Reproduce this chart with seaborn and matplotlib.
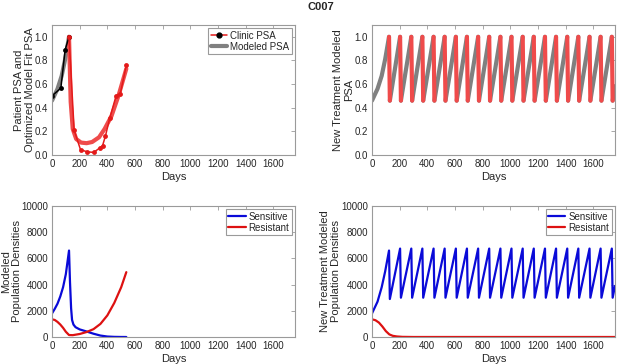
import numpy as np
import pandas as pd
import matplotlib
matplotlib.use("Agg")
import matplotlib.pyplot as plt
import seaborn as sns
from matplotlib.lines import Line2D

# ---------------- data ----------------
# Top-left: clinic PSA (pre-treatment black, on/after treatment red)
clinic_pre_day = [0, 64, 95, 123]
clinic_pre_psa = [0.50, 0.566, 0.89, 1.0]
clinic_post_day = [123, 160, 206, 254, 302, 347, 365, 386, 417, 463, 494, 537]
clinic_post_psa = [1.0, 0.21, 0.045, 0.027, 0.022, 0.062, 0.078, 0.16, 0.31, 0.50, 0.52, 0.76]

# Top-left: modeled fit PSA
fit_pre_day = [0, 40, 70, 95, 123]
fit_pre_psa = [0.46, 0.56, 0.67, 0.81, 1.0]
fit_post_day = [123, 135, 150, 175, 210, 250, 290, 340, 380, 430, 480, 537]
fit_post_psa = [1.0, 0.45, 0.22, 0.135, 0.105, 0.10, 0.11, 0.15, 0.22, 0.33, 0.50, 0.73]

# Top-right: new treatment modeled PSA (peaks / troughs of the cycles)
cycle_peak_day = [123, 203, 284, 364, 445, 525, 606, 686, 767, 847, 928,
                  1008, 1089, 1169, 1250, 1330, 1411, 1491, 1572, 1652, 1733]
cycle_drop_days = 6
psa_peak = 1.0
psa_trough = 0.46
psa_start_day = [0, 40, 70, 95]
psa_start_val = [0.46, 0.56, 0.67, 0.81]
end_day = 1756
psa_end_val = 0.58

# Bottom-left: modeled population densities
pop_day_s = [0, 20, 40, 60, 80, 100, 123, 130, 138, 145, 155, 170, 200, 250, 300, 350, 400, 450, 500, 537]
sens_s = [1800, 2150, 2550, 3100, 3800, 4800, 6600, 4200, 2200, 1300, 950, 750, 580, 420, 250, 110, 35, 10, 2, 0]
pop_day_r = [0, 20, 40, 60, 80, 100, 123, 150, 200, 250, 300, 350, 400, 450, 500, 537]
res_s = [1350, 1300, 1150, 950, 700, 400, 150, 140, 230, 380, 600, 1000, 1650, 2600, 3800, 4950]

# Bottom-right: new treatment populations
sens_start_day = [0, 40, 70, 95]
sens_start_val = [1800, 2700, 3800, 5000]
sens_peak = [6600] + [6750] * 20
sens_trough = [2900] + [3000] * 20
sens_end_val = 3900
res_day = [0, 25, 50, 75, 100, 125, 150, 180, 220, 300, 1756]
res_val = [1350, 1280, 1100, 800, 450, 200, 90, 40, 10, 0, 0]

# ---------------- style ----------------
sns.set_style("white")
plt.rcParams["font.family"] = ["Liberation Sans", "DejaVu Sans"]
plt.rcParams["font.size"] = 7.5

GRAY = "#808080"
RED_FIT = "#ef4b4b"
RED = "#e41a1a"
BLUE = "#0a0ad8"
RED2 = "#dd1111"
SPINE = "#9a9a9a"
TXT = "#262626"

W, H = 617, 364
fig = plt.figure(figsize=(W / 100, H / 100), dpi=100)


def add_ax(l, t, r, b):
    return fig.add_axes([l / W, 1 - b / H, (r - l) / W, (b - t) / H])


ax_tl = add_ax(52, 25, 295, 155)
ax_tr = add_ax(372, 25, 615, 155)
ax_bl = add_ax(52, 206, 295, 337)
ax_br = add_ax(372, 206, 615, 337)


def style(ax, ylim, yticks, ylabel, ylab_x):
    ax.set_xlim(0, 1756)
    ax.set_ylim(*ylim)
    ax.set_xticks(range(0, 1601, 200))
    ax.set_yticks(yticks)
    for s in ax.spines.values():
        s.set_visible(True)
        s.set_color(SPINE)
        s.set_linewidth(0.8)
    ax.tick_params(direction="in", length=3, width=0.6, color=SPINE,
                   top=True, right=True, labelsize=7, labelcolor=TXT, pad=3)
    ax.set_xlabel("Days", fontsize=8, color=TXT, labelpad=2)
    ax.set_ylabel(ylabel, fontsize=8, color=TXT, linespacing=1.1)
    ax.yaxis.set_label_coords(ylab_x, 0.5)


def legend(ax, handles, labels, hl):
    leg = ax.legend(handles, labels, loc="upper right", fontsize=7,
                    frameon=True, fancybox=False, borderpad=0.25, handlelength=hl,
                    handletextpad=0.3, labelspacing=0.1, borderaxespad=0.35)
    leg.get_frame().set_edgecolor(SPINE)
    leg.get_frame().set_linewidth(0.8)
    leg.get_frame().set_alpha(1)


# ---- top-left ----
sns.lineplot(x=fit_pre_day, y=fit_pre_psa, ax=ax_tl, color=GRAY, linewidth=3, estimator=None)
sns.lineplot(x=fit_post_day, y=fit_post_psa, ax=ax_tl, color=RED_FIT, linewidth=3, estimator=None)
sns.lineplot(x=clinic_pre_day, y=clinic_pre_psa, ax=ax_tl, color="black", linewidth=1.1,
             marker="o", markersize=3.5, markeredgewidth=0, estimator=None)
sns.lineplot(x=clinic_post_day, y=clinic_post_psa, ax=ax_tl, color=RED, linewidth=1.1,
             marker="o", markersize=3.5, markeredgewidth=0, estimator=None)
style(ax_tl, (0, 1.1), [0, 0.2, 0.4, 0.6, 0.8, 1], "Patient PSA and\nOptimized Model Fit PSA", -0.072)
legend(ax_tl,
       [Line2D([], [], color=RED, lw=1.1, marker="o", markerfacecolor="black",
               markeredgecolor="black", markersize=3.5),
        Line2D([], [], color=GRAY, lw=3)],
       ["Clinic PSA", "Modeled PSA"], 1.7)

# ---- top-right ----
gray_rows, red_rows = [], []
seg = 0
for d, v in zip(psa_start_day + [cycle_peak_day[0]], psa_start_val + [psa_peak]):
    gray_rows.append((seg, d, v))
for i, p in enumerate(cycle_peak_day):
    red_rows.append((i, p, psa_peak))
    red_rows.append((i, p + cycle_drop_days, psa_trough))
    seg += 1
    gray_rows.append((seg, p + cycle_drop_days, psa_trough))
    if i + 1 < len(cycle_peak_day):
        gray_rows.append((seg, cycle_peak_day[i + 1], psa_peak))
    else:
        gray_rows.append((seg, end_day, psa_end_val))
gdf = pd.DataFrame(gray_rows, columns=["seg", "day", "psa"])
rdf = pd.DataFrame(red_rows, columns=["seg", "day", "psa"])
sns.lineplot(data=gdf, x="day", y="psa", units="seg", estimator=None, ax=ax_tr,
             color=GRAY, linewidth=3, sort=False)
sns.lineplot(data=rdf, x="day", y="psa", units="seg", estimator=None, ax=ax_tr,
             color=RED_FIT, linewidth=3, sort=False)
style(ax_tr, (0, 1.1), [0, 0.2, 0.4, 0.6, 0.8, 1], "New Treatment Modeled\nPSA", -0.075)

# ---- bottom-left ----
sns.lineplot(x=pop_day_s, y=sens_s, ax=ax_bl, color=BLUE, linewidth=1.6, estimator=None)
sns.lineplot(x=pop_day_r, y=res_s, ax=ax_bl, color=RED2, linewidth=1.6, estimator=None)
style(ax_bl, (0, 10000), range(0, 10001, 2000), "Modeled\nPopulation Densities", -0.125)

# ---- bottom-right ----
sd = list(sens_start_day) + [cycle_peak_day[0]]
sv = list(sens_start_val) + [sens_peak[0]]
for i, p in enumerate(cycle_peak_day):
    if i > 0:
        sd.append(p)
        sv.append(sens_peak[i])
    sd.append(p + cycle_drop_days)
    sv.append(sens_trough[i])
sd.append(end_day)
sv.append(sens_end_val)
bdf = pd.DataFrame({"day": sd, "pop": sv})
sns.lineplot(data=bdf, x="day", y="pop", ax=ax_br, color=BLUE, linewidth=1.6,
             estimator=None, sort=False)
sns.lineplot(x=res_day, y=res_val, ax=ax_br, color=RED2, linewidth=1.6, estimator=None)
style(ax_br, (0, 10000), range(0, 10001, 2000),
      "New Treatment Modeled\nPopulation Densities", -0.127)

for ax in (ax_bl, ax_br):
    legend(ax, [Line2D([], [], color=BLUE, lw=1.6), Line2D([], [], color=RED2, lw=1.6)],
           ["Sensitive", "Resistant"], 1.8)

fig.text(321 / W, 1 - 7 / H, "C007", ha="center", va="center", fontsize=8,
         fontweight="bold", color=TXT)

fig.savefig("out.png", dpi=100)
